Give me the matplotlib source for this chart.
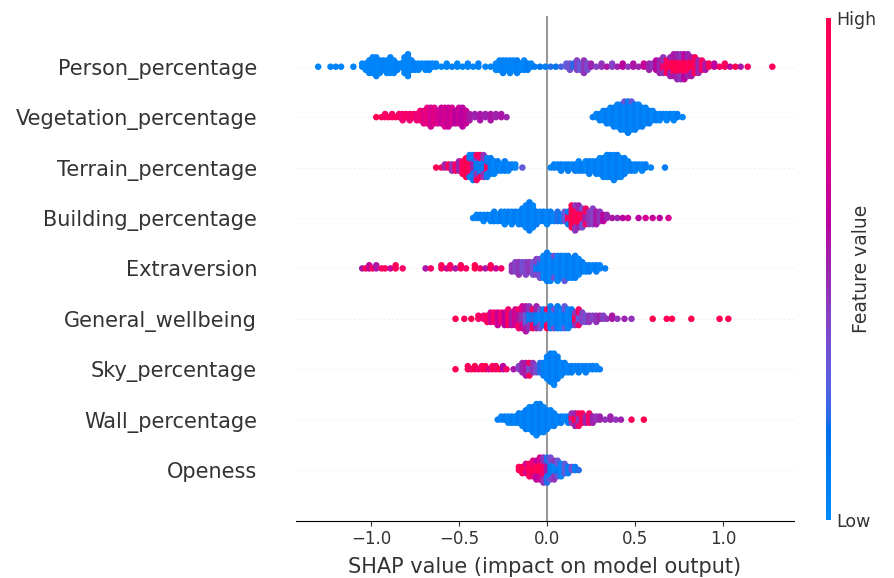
import numpy as np
import matplotlib
matplotlib.use("Agg")
import matplotlib.pyplot as plt
from matplotlib.colors import LinearSegmentedColormap

# feature names, top row first
features = ["Person_percentage", "Vegetation_percentage", "Terrain_percentage",
            "Building_percentage", "Extraversion", "General_wellbeing",
            "Sky_percentage", "Wall_percentage", "Openess"]

# SHAP value, number of dots stacked there, feature value (0 low .. 1 high)
person_x = [-1.30, -1.23, -1.20, -1.17, -1.10, -1.05, -1.03, -1.01, -0.99, -0.97, -0.95, -0.93,
            -0.91, -0.89, -0.87, -0.85, -0.83, -0.81, -0.79, -0.77, -0.75, -0.73, -0.71, -0.69,
            -0.67, -0.65, -0.63, -0.60, -0.57, -0.54, -0.51, -0.48, -0.45, -0.42, -0.39, -0.35,
            -0.32, -0.29, -0.27, -0.25, -0.23, -0.21, -0.19, -0.17, -0.15, -0.13, -0.11, -0.09,
            -0.07, -0.04, -0.01, 0.02, 0.05, 0.08, 0.11, 0.13, 0.15, 0.17, 0.19, 0.21, 0.23,
            0.25, 0.28, 0.31, 0.34, 0.37, 0.40, 0.43, 0.46, 0.49, 0.52, 0.55, 0.58, 0.60, 0.62,
            0.64, 0.66, 0.66, 0.68, 0.70, 0.70, 0.72, 0.72, 0.74, 0.74, 0.76, 0.76, 0.78, 0.78,
            0.80, 0.80, 0.82, 0.82, 0.84, 0.86, 0.88, 0.90, 0.92, 0.95, 0.98, 1.01, 1.04, 1.07,
            1.10, 1.14, 1.28]
person_n = [1, 1, 1, 1, 1, 2, 3, 5, 6, 7, 5, 4,
            5, 6, 5, 3, 2, 6, 8, 4, 3, 3, 2, 3,
            3, 2, 2, 1, 2, 1, 2, 1, 2, 1, 2, 1,
            1, 3, 4, 5, 4, 5, 4, 5, 3, 4, 3, 2,
            1, 1, 1, 1, 1, 1, 2, 3, 2, 4, 3, 5, 3,
            2, 1, 2, 1, 2, 1, 2, 1, 2, 1, 2, 3, 2, 4,
            5, 3, 3, 5, 4, 3, 5, 3, 5, 4, 5, 4, 5, 4,
            5, 3, 4, 3, 6, 5, 4, 3, 2, 2, 1, 2, 1, 1,
            1, 1, 1]
person_c = [0.05, 0.05, 0.05, 0.05, 0.05, 0.05, 0.05, 0.05, 0.05, 0.05, 0.05, 0.08,
            0.05, 0.05, 0.05, 0.08, 0.05, 0.05, 0.05, 0.05, 0.08, 0.05, 0.05, 0.05,
            0.08, 0.05, 0.05, 0.05, 0.05, 0.08, 0.05, 0.05, 0.05, 0.05, 0.08, 0.05,
            0.05, 0.05, 0.05, 0.08, 0.05, 0.05, 0.05, 0.08, 0.05, 0.05, 0.10, 0.05,
            0.10, 0.15, 0.10, 0.20, 0.15, 0.25, 0.30, 0.35, 0.20, 0.40, 0.30, 0.45, 0.35,
            0.50, 0.40, 0.45, 0.55, 0.40, 0.50, 0.60, 0.45, 0.55, 0.50, 0.65, 0.50, 0.45, 0.60,
            0.50, 0.85, 0.45, 0.95, 0.95, 0.50, 1.00, 0.55, 1.00, 0.50, 0.95, 0.45, 1.00, 0.60,
            0.95, 0.50, 1.00, 0.55, 0.95, 0.50, 0.90, 0.55, 0.95, 0.60, 0.90, 0.95, 0.60, 1.00,
            0.55, 0.90, 0.95]

veg_x = [-0.97, -0.94, -0.92, -0.90, -0.88, -0.86, -0.84, -0.82, -0.80, -0.78, -0.76, -0.74,
         -0.72, -0.70, -0.68, -0.66, -0.64, -0.62, -0.60, -0.58, -0.56, -0.54, -0.52, -0.50,
         -0.48, -0.46, -0.44, -0.41, -0.38, -0.35, -0.32, -0.29, -0.26, -0.23,
         0.26, 0.28, 0.30, 0.32, 0.34, 0.36, 0.38, 0.40, 0.42, 0.44, 0.44, 0.46, 0.48, 0.48,
         0.50, 0.52, 0.54, 0.56, 0.58, 0.60, 0.62, 0.64, 0.66, 0.68, 0.70, 0.72, 0.74, 0.77]
veg_n = [1, 1, 2, 1, 2, 1, 2, 3, 2, 3, 2, 3,
         4, 5, 6, 7, 6, 5, 6, 7, 7, 6, 5, 6,
         7, 5, 3, 2, 3, 2, 3, 2, 2, 1,
         1, 2, 3, 4, 5, 6, 7, 8, 9, 9, 1, 11, 9, 1,
         9, 8, 7, 6, 5, 4, 3, 3, 2, 3, 2, 3, 2, 1]
veg_c = [1.00, 0.95, 0.90, 0.95, 0.90, 0.95, 0.90, 0.85, 0.90, 0.85, 0.90, 0.80,
         0.85, 0.75, 0.80, 0.70, 0.75, 0.70, 0.65, 0.70, 0.65, 0.70, 0.60, 0.65,
         0.60, 0.65, 0.55, 0.50, 0.55, 0.50, 0.55, 0.50, 0.55, 0.50,
         0.10, 0.05, 0.10, 0.05, 0.10, 0.05, 0.10, 0.05, 0.10, 0.05, 0.35, 0.10, 0.05, 0.30,
         0.10, 0.05, 0.10, 0.05, 0.10, 0.05, 0.10, 0.05, 0.10, 0.05, 0.10, 0.05, 0.10, 0.05]

terrain_x = [-0.63, -0.60, -0.58, -0.56, -0.54, -0.52, -0.50, -0.48, -0.46, -0.44, -0.44,
             -0.42, -0.42, -0.40, -0.40, -0.40, -0.38, -0.38, -0.36, -0.36, -0.34, -0.34,
             -0.32, -0.30, -0.28, -0.26, -0.24, -0.22, -0.20, -0.18, -0.14,
             0.02, 0.04, 0.06, 0.08, 0.10, 0.12, 0.14, 0.16, 0.18, 0.20, 0.22, 0.24, 0.26,
             0.28, 0.30, 0.32, 0.34, 0.36, 0.38, 0.40, 0.42, 0.44, 0.46, 0.48, 0.50, 0.52,
             0.54, 0.56, 0.59, 0.67]
terrain_n = [1, 1, 2, 2, 3, 3, 4, 5, 7, 5, 3,
             4, 5, 4, 3, 2, 5, 3, 4, 4, 3, 4,
             6, 5, 4, 3, 4, 3, 2, 2, 1,
             1, 2, 2, 3, 2, 3, 2, 3, 4, 3, 4, 5, 4,
             5, 6, 7, 8, 8, 9, 8, 7, 6, 4, 3, 3, 2,
             3, 2, 1, 1]
terrain_c = [1.00, 0.90, 0.50, 0.95, 0.45, 0.90, 0.50, 0.95, 1.00, 0.95, 0.10,
             0.50, 0.10, 0.10, 0.45, 0.95, 0.10, 0.90, 0.10, 0.45, 0.95, 0.10,
             0.10, 0.05, 0.10, 0.05, 0.10, 0.05, 0.10, 0.05, 0.30,
             0.05, 0.10, 0.05, 0.10, 0.05, 0.10, 0.05, 0.10, 0.05, 0.10, 0.05, 0.10, 0.05,
             0.10, 0.05, 0.10, 0.05, 0.10, 0.05, 0.10, 0.05, 0.10, 0.05, 0.10, 0.05, 0.10,
             0.05, 0.10, 0.05, 0.10]

building_x = [-0.42, -0.40, -0.38, -0.36, -0.34, -0.32, -0.30, -0.28, -0.26, -0.24, -0.22,
              -0.20, -0.18, -0.16, -0.14, -0.12, -0.10, -0.08, -0.06, -0.04, -0.02, 0.00,
              0.02, 0.04, 0.06, 0.08, 0.10, 0.12, 0.12, 0.14, 0.16, 0.16, 0.18, 0.18, 0.20,
              0.20, 0.22, 0.22, 0.24, 0.26, 0.28, 0.30, 0.32, 0.34, 0.37, 0.40, 0.43, 0.46,
              0.52, 0.56, 0.60, 0.64, 0.69]
building_n = [1, 2, 2, 3, 2, 3, 4, 3, 4, 5, 4,
              5, 4, 5, 6, 8, 10, 8, 5, 4, 4, 5,
              4, 3, 4, 3, 4, 3, 2, 8, 6, 3, 5, 3, 4,
              3, 3, 3, 5, 6, 5, 4, 3, 2, 1, 1, 1, 1,
              1, 1, 1, 1, 1]
building_c = [0.10, 0.05, 0.10, 0.05, 0.10, 0.05, 0.10, 0.05, 0.10, 0.05, 0.10,
              0.05, 0.10, 0.05, 0.10, 0.05, 0.10, 0.05, 0.10, 0.05, 0.10, 0.05,
              0.10, 0.05, 0.20, 0.10, 0.30, 0.90, 0.10, 1.00, 0.95, 0.45, 1.00, 0.50, 0.90,
              0.35, 0.50, 0.90, 0.45, 0.40, 0.55, 0.45, 0.60, 0.50, 0.55, 0.50, 0.60, 0.65,
              0.60, 0.70, 0.65, 0.60, 0.70]

extra_x = [-1.05, -1.03, -1.01, -0.99, -0.97, -0.94, -0.92, -0.89, -0.86, -0.82,
           -0.69, -0.66, -0.60, -0.57, -0.55, -0.52, -0.49, -0.46, -0.41, -0.38, -0.35,
           -0.32, -0.29, -0.26, -0.20, -0.18, -0.16, -0.14, -0.12, -0.10, -0.08, -0.06,
           -0.06, -0.04, -0.04, -0.02, 0.00, 0.02, 0.04, 0.04, 0.06, 0.08, 0.10, 0.10, 0.12,
           0.14, 0.16, 0.18, 0.20, 0.22, 0.24, 0.26, 0.28, 0.30, 0.33]
extra_n = [1, 1, 2, 1, 2, 1, 1, 1, 2, 1,
           1, 1, 2, 1, 2, 1, 2, 1, 2, 1, 1,
           2, 1, 1, 3, 4, 5, 4, 5, 4, 5, 3,
           3, 4, 3, 8, 10, 9, 6, 2, 9, 8, 8, 1, 8,
           7, 8, 6, 4, 3, 3, 2, 3, 2, 1]
extra_c = [0.55, 0.95, 0.65, 0.95, 0.55, 0.90, 0.95, 0.65, 0.95, 0.90,
           0.55, 0.90, 0.95, 0.65, 0.90, 0.55, 0.95, 0.90, 1.00, 0.90, 0.55,
           0.95, 0.65, 0.90, 0.45, 0.40, 0.45, 0.35, 0.40, 0.45, 0.35, 0.10,
           0.40, 0.10, 0.35, 0.05, 0.10, 0.05, 0.10, 0.35, 0.05, 0.10, 0.05, 0.30, 0.10,
           0.05, 0.10, 0.05, 0.10, 0.05, 0.10, 0.05, 0.10, 0.05, 0.10]

wellbeing_x = [-0.52, -0.47, -0.43, -0.39, -0.36, -0.34, -0.32, -0.30, -0.28, -0.26, -0.24,
               -0.22, -0.20, -0.18, -0.16, -0.16, -0.14, -0.14, -0.12, -0.12, -0.10, -0.10,
               -0.08, -0.08, -0.06, -0.06, -0.04, -0.04, -0.02, 0.00, 0.00, 0.02, 0.04, 0.04,
               0.06, 0.08, 0.10, 0.10, 0.12, 0.14, 0.16, 0.16, 0.18, 0.18, 0.20, 0.22, 0.24,
               0.26, 0.28, 0.30, 0.32, 0.34, 0.37, 0.40, 0.44, 0.48,
               0.60, 0.68, 0.71, 0.82, 0.98, 1.03]
wellbeing_n = [1, 1, 1, 2, 2, 3, 4, 4, 5, 4, 5,
               6, 5, 6, 4, 3, 4, 4, 5, 4, 4, 4,
               4, 3, 5, 3, 4, 3, 6, 4, 3, 8, 5, 2,
               8, 7, 5, 3, 7, 6, 3, 2, 3, 3, 4, 3, 3,
               2, 3, 2, 2, 1, 2, 1, 1, 1,
               1, 1, 1, 1, 1, 1]
wellbeing_c = [1.00, 0.95, 1.00, 0.90, 0.85, 0.95, 0.70, 0.90, 0.65, 0.85, 0.60,
               0.90, 0.55, 0.70, 0.55, 0.90, 0.45, 0.70, 0.30, 0.55, 0.10, 0.45,
               0.20, 0.95, 0.10, 0.50, 0.05, 0.35, 0.10, 0.05, 0.95, 0.10, 0.05, 0.35,
               0.10, 0.05, 0.10, 0.30, 0.05, 0.10, 0.95, 0.45, 0.30, 0.90, 0.40, 0.35, 0.45,
               0.40, 0.45, 0.50, 0.40, 0.45, 0.55, 0.45, 0.50, 0.45,
               1.00, 0.95, 1.00, 1.00, 1.00, 1.00]

sky_x = [-0.52, -0.45, -0.43, -0.41, -0.39, -0.37, -0.35, -0.33, -0.31, -0.29, -0.27, -0.25,
         -0.23, -0.19, -0.16, -0.14, -0.12, -0.10, -0.10, -0.08, -0.06, -0.04, -0.02, 0.00,
         0.02, 0.04, 0.06, 0.08, 0.10, 0.12, 0.14, 0.16, 0.18, 0.20, 0.22, 0.24, 0.26, 0.28,
         0.30]
sky_n = [1, 2, 1, 2, 1, 2, 2, 1, 2, 2, 1, 2,
         1, 1, 2, 4, 5, 3, 2, 4, 3, 4, 5, 8,
         10, 11, 8, 5, 4, 3, 3, 2, 3, 2, 3, 2, 2, 2,
         1]
sky_c = [1.00, 0.95, 0.90, 1.00, 0.85, 0.95, 1.00, 0.70, 0.95, 0.90, 1.00, 0.60,
         0.90, 0.55, 0.40, 0.50, 0.55, 0.35, 0.95, 0.45, 0.35, 0.20, 0.10, 0.05,
         0.10, 0.05, 0.10, 0.05, 0.10, 0.05, 0.10, 0.05, 0.10, 0.05, 0.10, 0.05, 0.10, 0.05,
         0.10]

wall_x = [-0.28, -0.26, -0.24, -0.22, -0.20, -0.18, -0.16, -0.14, -0.12, -0.10, -0.08, -0.06,
          -0.04, -0.02, 0.00, 0.02, 0.04, 0.06, 0.08, 0.10, 0.12, 0.14, 0.14, 0.16, 0.16,
          0.18, 0.18, 0.20, 0.22, 0.24, 0.26, 0.28, 0.30, 0.33, 0.36, 0.39, 0.42, 0.48, 0.55]
wall_n = [1, 2, 2, 3, 3, 3, 4, 5, 7, 8, 9, 11,
          10, 9, 7, 6, 5, 3, 3, 2, 3, 2, 2, 3, 2,
          3, 2, 4, 3, 4, 3, 2, 2, 1, 2, 1, 1, 1, 1]
wall_c = [0.10, 0.05, 0.10, 0.05, 0.10, 0.05, 0.10, 0.05, 0.10, 0.05, 0.10, 0.05,
          0.10, 0.05, 0.10, 0.05, 0.10, 0.05, 0.10, 0.05, 0.10, 0.95, 0.45, 1.00, 0.50,
          0.45, 0.90, 0.95, 0.50, 0.90, 0.50, 0.45, 0.50, 0.45, 0.50, 0.45, 0.50, 0.95, 1.00]

open_x = [-0.16, -0.14, -0.12, -0.12, -0.10, -0.08, -0.08, -0.06, -0.06, -0.04, -0.04,
          -0.02, -0.02, 0.00, 0.00, 0.02, 0.02, 0.04, 0.04, 0.06, 0.06, 0.08, 0.10, 0.12,
          0.14, 0.16, 0.18]
open_n = [2, 3, 2, 2, 5, 3, 3, 4, 3, 4, 4,
          5, 4, 4, 5, 5, 3, 4, 3, 3, 3, 5, 4, 3,
          2, 2, 1]
open_c = [0.95, 1.00, 0.90, 0.70, 0.95, 1.00, 0.80, 0.95, 0.60, 1.00, 0.70,
          0.90, 0.45, 0.55, 0.20, 0.10, 0.35, 0.05, 0.45, 0.10, 0.30, 0.05, 0.30, 0.10,
          0.35, 0.10, 0.20]

rows = [(person_x, person_n, person_c), (veg_x, veg_n, veg_c),
        (terrain_x, terrain_n, terrain_c), (building_x, building_n, building_c),
        (extra_x, extra_n, extra_c), (wellbeing_x, wellbeing_n, wellbeing_c),
        (sky_x, sky_n, sky_c), (wall_x, wall_n, wall_c), (open_x, open_n, open_c)]


# shap's red_blue colormap: walk through LCH from blue to red, darker in the middle
def lch_to_rgb(l, c, h):
    a = c * np.cos(h)
    b = c * np.sin(h)
    fy = (l + 16) / 116
    fx = fy + a / 500
    fz = fy - b / 200
    d = 6 / 29

    def finv(t):
        return np.where(t > d, t ** 3, 3 * d * d * (t - 4 / 29))
    xyz = np.array([0.95047 * finv(fx), 1.0 * finv(fy), 1.08883 * finv(fz)])
    m = np.array([[3.2406, -1.5372, -0.4986],
                  [-0.9689, 1.8758, 0.0415],
                  [0.0557, -0.2040, 1.0570]])
    lin = m @ xyz
    rgb = np.where(lin > 0.0031308, 1.055 * np.abs(lin) ** (1 / 2.4) - 0.055, 12.92 * lin)
    return np.clip(rgb, 0, 1)


blue_lch = [54.0, 70.0, 4.6588]
red_lch = [54.0, 90.0, 0.35470565 + 2 * np.pi]
l_mid = 40.0
nsteps = 100
l_vals = list(np.linspace(blue_lch[0], l_mid, nsteps // 2)) + list(np.linspace(l_mid, red_lch[0], nsteps // 2))
c_vals = np.linspace(blue_lch[1], red_lch[1], nsteps)
h_vals = np.linspace(blue_lch[2], red_lch[2], nsteps)
cols = [lch_to_rgb(l, c, h) for l, c, h in zip(l_vals, c_vals, h_vals)]
red_blue = LinearSegmentedColormap.from_list("red_blue", cols)

fig = plt.figure(figsize=(8.95, 5.78), dpi=100)
ax = fig.add_axes([296 / 895, 1 - 520.5 / 578, 498 / 895, 504.2 / 578])

n_feat = len(features)
layer_step = 0.062
for i, (xs, ns, cs) in enumerate(rows):
    pos = n_feat - 1 - i
    ax.axhline(y=pos, color="#cccccc", lw=0.5, dashes=(1, 5), zorder=-1)
    sv = np.repeat(xs, ns)
    fv = np.repeat(cs, ns)
    # stack dots that share a value, alternating above and below the row
    ys = np.zeros(len(sv))
    layer = 0
    last = None
    for k, v in enumerate(sv):
        if v != last:
            layer = 0
        ys[k] = np.ceil(layer / 2) * ((layer % 2) * 2 - 1)
        layer += 1
        last = v
    ax.scatter(sv, pos + ys * layer_step, c=fv, cmap=red_blue, vmin=0, vmax=1, s=22,
               linewidth=0, alpha=1, zorder=3, rasterized=True)

ax.axvline(x=0, color="#999999", zorder=-1)
ax.set_xlim(-1.426, 1.403)
ax.set_ylim(-1, n_feat)
ax.set_yticks(range(n_feat))
ax.set_yticklabels(features[::-1], fontsize=15, color="#333333")
ax.tick_params(axis="y", length=0, pad=28)
ax.set_xticks([-1.0, -0.5, 0.0, 0.5, 1.0])
ax.tick_params(axis="x", labelsize=12, colors="#333333")
ax.set_xlabel("SHAP value (impact on model output)", fontsize=15, color="#333333", labelpad=6)
for s in ["left", "right", "top"]:
    ax.spines[s].set_visible(False)

cax = fig.add_axes([826 / 895, 1 - 520 / 578, 5 / 895, 502 / 578])
sm = plt.cm.ScalarMappable(cmap=red_blue, norm=plt.Normalize(0, 1))
cb = fig.colorbar(sm, cax=cax, ticks=[0, 1])
cb.set_ticklabels(["Low", "High"])
cb.ax.tick_params(labelsize=12.5, length=0, colors="#333333")
cb.set_label("Feature value", size=13.5, labelpad=0, color="#333333")
cb.ax.yaxis.set_label_coords(5.2, 0.5)
cb.outline.set_visible(False)

fig.savefig("out.png", dpi=100)
